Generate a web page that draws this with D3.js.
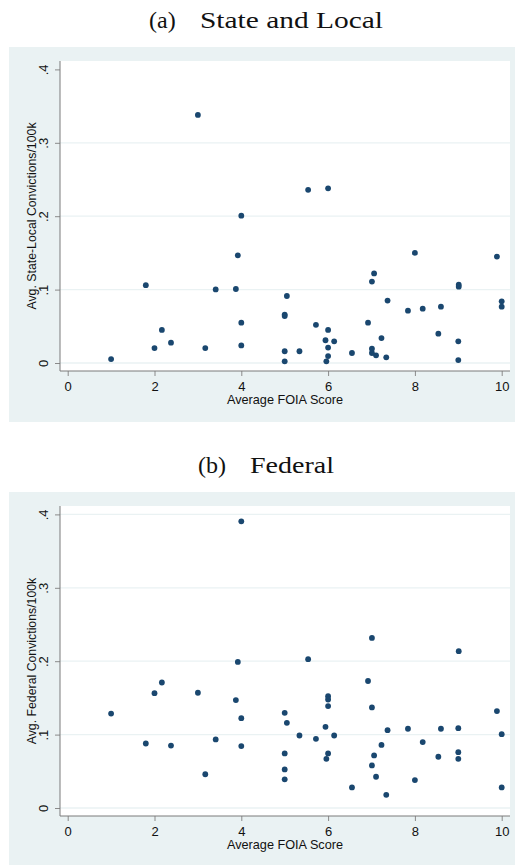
<!DOCTYPE html>
<html>
<head>
<meta charset="utf-8">
<script src="https://cdn.jsdelivr.net/npm/d3@7"></script>
<style>
  body { margin: 0; background: #fff; }
  text { font-family: "Liberation Sans", Arial, sans-serif; }
</style>
</head>
<body>
<svg id="chart"></svg>
<script>
// panel (a): state and local
const foiaA = [3.0, 4.0, 5.54, 6.0, 1.0, 1.8, 2.0, 2.17, 2.38, 3.17, 3.41, 3.875, 3.92, 4.0, 4.0,
  5.05, 5.0, 5.0, 5.0, 5.0, 5.34, 5.72, 6.0, 5.94, 6.14, 6.0, 6.0, 5.96, 6.55, 6.92,
  7.01, 7.06, 7.01, 7.01, 7.105, 7.23, 7.37, 7.34, 7.84, 8.0, 8.18, 8.6, 8.54, 9.01, 9.01,
  9.0, 9.0, 9.89, 10.0, 10.0];
const stateLocal = [0.338, 0.2007, 0.236, 0.238, 0.0054, 0.106, 0.0204, 0.045, 0.0277, 0.0204, 0.1003, 0.1008, 0.1467, 0.0549, 0.024,
  0.0913, 0.066, 0.064, 0.016, 0.0023, 0.016, 0.052, 0.045, 0.031, 0.0295, 0.021, 0.0095, 0.0023, 0.0136, 0.055,
  0.111, 0.122, 0.0195, 0.0136, 0.0104, 0.034, 0.085, 0.0077, 0.0713, 0.150, 0.074, 0.0767, 0.040, 0.1067, 0.104,
  0.0295, 0.004, 0.145, 0.084, 0.0767];

// panel (b): federal
const foiaB = [4.0, 3.92, 7.01, 9.01, 5.54, 1.0, 1.8, 2.0, 2.17, 2.38, 3.0, 3.17, 3.41, 3.875, 4.0, 4.0,
  5.0, 5.05, 5.0, 5.0, 5.0, 5.34, 5.72, 5.94, 6.0, 6.0, 6.0, 6.14, 6.0, 5.96, 6.55, 6.92,
  7.01, 7.06, 7.01, 7.105, 7.23, 7.37, 7.34, 7.84, 8.0, 8.18, 8.6, 8.54, 9.0, 9.0, 9.0, 9.89, 10.0, 10.0];
const federal = [0.3905, 0.199, 0.2317, 0.2136, 0.2027, 0.1287, 0.0879, 0.1565, 0.171, 0.085, 0.157, 0.046, 0.0934, 0.147, 0.1224, 0.0843,
  0.1297, 0.116, 0.0743, 0.0525, 0.039, 0.0988, 0.0943, 0.1106, 0.1524, 0.1478, 0.1388, 0.0988, 0.0743, 0.067, 0.028, 0.173,
  0.137, 0.0716, 0.058, 0.0426, 0.086, 0.106, 0.018, 0.108, 0.038, 0.0898, 0.108, 0.0698, 0.1088, 0.076, 0.067, 0.132, 0.1006, 0.028];

const xTicks = [0, 2, 4, 6, 8, 10];
const yTicks = [0, 0.1, 0.2, 0.3, 0.4];

const w = 515, h = 865;
const bg = "#eaf2f3";
const dotColor = "#1a476f";

const svg = d3.select("#chart").attr("width", w).attr("height", h);

function panel(top, xs, ys, yTitle, label, name, gridTicks) {
  const g = svg.append("g").attr("transform", `translate(0, ${top})`);
  const left = 60, right = 510, ptop = 14, pbot = 324;

  g.append("rect").attr("x", 9).attr("y", 0).attr("width", w - 9).attr("height", 375).attr("fill", bg);
  g.append("rect").attr("x", left).attr("y", ptop).attr("width", right - left).attr("height", pbot - ptop).attr("fill", "#fff");

  const x = d3.scaleLinear().domain([0, 10]).range([67.7, 501.7]);
  const y = d3.scaleLinear().domain([0, 0.4]).range([316, 22.4]);

  g.selectAll(".grid")
    .data(gridTicks)
    .enter()
    .append("line")
    .attr("x1", left).attr("x2", right)
    .attr("y1", (d) => y(d)).attr("y2", (d) => y(d))
    .attr("stroke", bg).attr("stroke-width", 1.3);

  const yAxis = g.append("g")
    .attr("transform", `translate(${left}, 0)`)
    .call(d3.axisLeft(y).tickValues(yTicks).tickSize(5)
      .tickFormat((d) => (d === 0 ? "0" : d3.format(".1f")(d).replace("0.", "."))));
  yAxis.select(".domain").remove();
  yAxis.selectAll("line").attr("stroke", "#8a8a8a");
  yAxis.selectAll("text")
    .attr("x", 0).attr("y", 0).attr("dy", 0)
    .attr("text-anchor", "middle")
    .attr("transform", "translate(-12, 0) rotate(-90)")
    .attr("font-size", 13).attr("fill", "#111");

  const xAxis = g.append("g")
    .attr("transform", `translate(0, ${pbot})`)
    .call(d3.axisBottom(x).tickValues(xTicks).tickSize(5).tickFormat(d3.format("d")));
  xAxis.select(".domain").remove();
  xAxis.selectAll("line").attr("stroke", "#8a8a8a");
  xAxis.selectAll("text").attr("y", 20).attr("dy", 0).attr("font-size", 13).attr("fill", "#111");

  g.append("line").attr("x1", left).attr("x2", left).attr("y1", ptop).attr("y2", pbot).attr("stroke", "#7a7a7a");
  g.append("line").attr("x1", left).attr("x2", right).attr("y1", pbot).attr("y2", pbot).attr("stroke", "#7a7a7a");

  g.selectAll(".dot")
    .data(xs.map((v, i) => [v, ys[i]]))
    .enter()
    .append("circle")
    .attr("cx", (d) => x(d[0]))
    .attr("cy", (d) => y(d[1]))
    .attr("r", 2.9)
    .attr("fill", dotColor);

  g.append("text")
    .attr("x", 285).attr("y", 357)
    .attr("text-anchor", "middle")
    .attr("font-size", 12.7).attr("fill", "#111")
    .text("Average FOIA Score");

  g.append("text")
    .attr("transform", `translate(36, ${(ptop + pbot) / 2}) rotate(-90)`)
    .attr("text-anchor", "middle")
    .attr("font-size", 12.3).attr("fill", "#111")
    .text(yTitle);

  // subfigure caption
  const cap = svg.append("text")
    .attr("y", top - 19)
    .style("font-family", "'Liberation Serif', 'DejaVu Serif', serif")
    .attr("font-size", 24).attr("fill", "#111");
  cap.append("tspan").attr("x", label[0]).text(label[1]);
  cap.append("tspan").attr("x", label[2]).attr("textLength", label[3]).attr("lengthAdjust", "spacingAndGlyphs").text(name);
}

panel(47, foiaA, stateLocal, "Avg. State-Local Convictions/100k", [149, "(a)", 200, 183], "State and Local", [0, 0.1, 0.2, 0.3]);
panel(492, foiaB, federal, "Avg. Federal Convictions/100k", [198, "(b)", 250, 84], "Federal", [0, 0.1, 0.2, 0.3, 0.4]);
</script>
</body>
</html>
